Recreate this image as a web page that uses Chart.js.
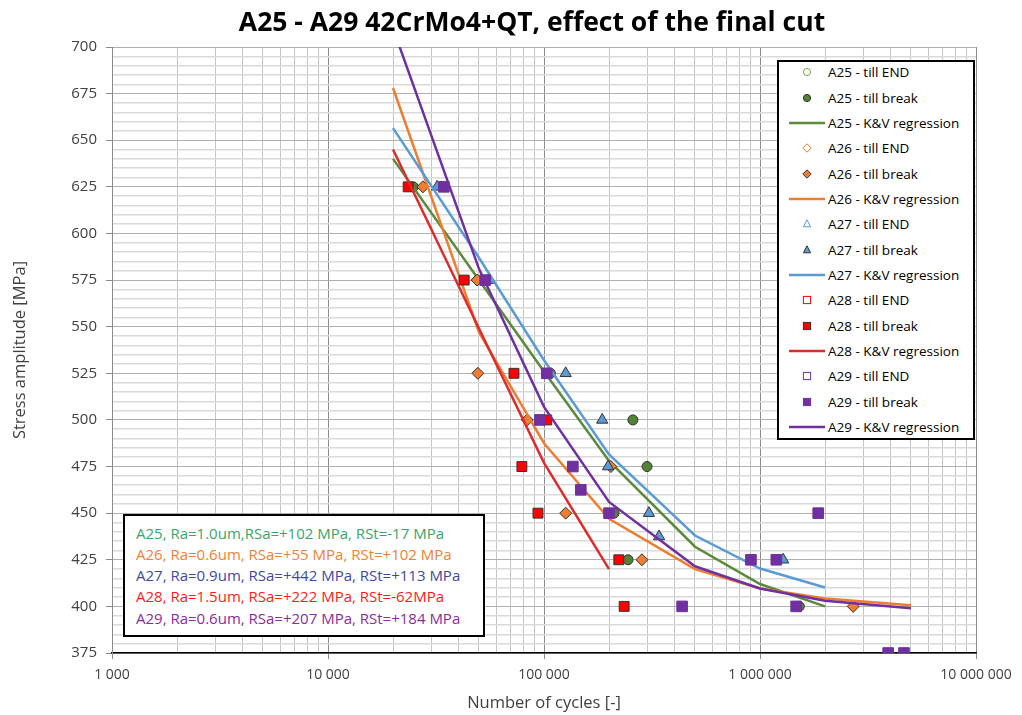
<!DOCTYPE html>
<html>
<head>
<meta charset="utf-8">
<script src="https://cdn.jsdelivr.net/npm/chart.js@4.4.1/dist/chart.umd.min.js"></script>
<style>
  html, body { margin: 0; padding: 0; background: #fff; }
  #wrap { position: relative; width: 1022px; height: 715px; font-family: 'Open Sans', sans-serif; }
  #title { position: absolute; left: 0; top: 3px; width: 1064px; line-height: 34px; text-align: center;
           font: bold 26.5px 'Open Sans', sans-serif; color: #000; }
  #legend { position: absolute; left: 777px; top: 60px; width: 198px; height: 380px; box-sizing: border-box;
            border: 2px solid #000; background: #fff; }
  .row { position: absolute; left: 0; width: 194px; height: 20px; font-size: 13.5px; line-height: 20px; color: #000; white-space: nowrap; }
  .row svg { position: absolute; left: 10px; top: 0; }
  .row span { position: absolute; left: 49px; top: 0; }
  #note { position: absolute; left: 123px; top: 514px; width: 362px; height: 123px; box-sizing: border-box;
          border: 2px solid #000; background: #fff; }
  #note div { position: absolute; left: 11px; font-size: 15px; line-height: 20px; white-space: nowrap; }
</style>
</head>
<body>
<div id="wrap">
  <canvas id="chart" width="1022" height="715"></canvas>
  <div id="title">A25 - A29 42CrMo4+QT, effect of the final cut</div>
  <div id="legend"></div>
  <div id="note"></div>
</div>
<script>
// axis ticks
const X_DECADES = [1e3, 1e4, 1e5, 1e6, 1e7];
const X_TICK_LABELS = ['1 000', '10 000', '100 000', '1 000 000', '10 000 000'];
const Y_MIN = 375, Y_MAX = 700, Y_STEP = 5, Y_MAJOR = 25;

// K&V regression curves, N values shared by all fits
const FIT_N = [2e4, 5e4, 1e5, 2e5, 5e5, 1e6, 2e6, 5e6];
const A25_FIT = [640, 575, 526, 478, 432, 412, 400];
const A26_FIT = [678, 547, 487.5, 447, 420, 409.6, 404.2, 400.6];
const A27_FIT = [656.5, 587, 532, 481.5, 438, 420.3, 410.1];
const A28_FIT = [645, 549, 477, 420];
const A29_FIT = [710, 581, 507, 456, 421.5, 409.6, 403, 399];

// tests till break: [cycles, stress amplitude]
const A25_BREAK = [[24800, 625], [107000, 525], [258000, 500], [300000, 475], [211000, 450], [245000, 425], [1520000, 400]];
const A26_BREAK = [[27500, 625], [49000, 575], [49400, 525], [83700, 500], [204000, 475], [126000, 450], [284000, 425], [2700000, 400]];
const A27_BREAK = [[32000, 625], [55600, 575], [126000, 525], [186000, 500], [198000, 475], [306000, 450], [341000, 437.5], [1280000, 425]];
const A28_BREAK = [[23500, 625], [42700, 575], [72600, 525], [103000, 500], [79000, 475], [93800, 450], [222000, 425], [235000, 400]];
const A29_BREAK = [[34400, 625], [53400, 575], [103000, 525], [95700, 500], [136000, 475], [148000, 462.5], [200000, 450],
                   [1860000, 450], [908000, 425], [1190000, 425], [436000, 400], [1470000, 400], [3920000, 375], [4640000, 375]];
// run-outs (none plotted)
const A25_END = [], A26_END = [], A27_END = [], A28_END = [], A29_END = [];

const NOTES = [
  ['A25, Ra=1.0um,RSa=+102 MPa, RSt=-17 MPa', '#3aa56b'],
  ['A26, Ra=0.6um, RSa=+55 MPa, RSt=+102 MPa', '#f4802f'],
  ['A27, Ra=0.9um, RSa=+442 MPa, RSt=+113 MPa', '#3f48a0'],
  ['A28, Ra=1.5um, RSa=+222 MPa, RSt=-62MPa', '#ff1a1a'],
  ['A29, Ra=0.6um, RSa=+207 MPa, RSt=+184 MPa', '#8a2ba0'],
];

const SPECIMENS = [
  { name: 'A25', end: A25_END, brk: A25_BREAK, fit: A25_FIT, style: 'circle', r: 5, fill: '#548235', edge: '#333', open: '#70ad47', line: '#5b8a3a' },
  { name: 'A26', end: A26_END, brk: A26_BREAK, fit: A26_FIT, style: 'rectRot', r: 6, fill: '#ed7d31', edge: '#333', open: '#ed7d31', line: '#ed7d31' },
  { name: 'A27', end: A27_END, brk: A27_BREAK, fit: A27_FIT, style: 'triangle', r: 6.5, fill: '#5b9bd5', edge: '#333', open: '#5b9bd5', line: '#5b9bd5' },
  { name: 'A28', end: A28_END, brk: A28_BREAK, fit: A28_FIT, style: 'rect', r: 7, fill: '#ff0000', edge: '#333', open: '#ff0000', line: '#e02b2b' },
  { name: 'A29', end: A29_END, brk: A29_BREAK, fit: A29_FIT, style: 'rect', r: 7.5, fill: '#7030a0', edge: '#7030a0', open: '#7030a0', line: '#7030a0' },
];

const toPts = arr => arr.map(([x, y]) => ({ x, y }));
const isDecade = v => Math.abs(Math.log10(v) - Math.round(Math.log10(v))) < 1e-9;

const series = [];
for (const s of SPECIMENS) {
  series.push({ kind: 'end', spec: s, ds: {
    label: s.name + ' - till END', data: toPts(s.end), showLine: false,
    pointStyle: s.style, pointRadius: s.r, pointBackgroundColor: '#fff', pointBorderColor: s.open, pointBorderWidth: 1,
  } });
  series.push({ kind: 'break', spec: s, ds: {
    label: s.name + ' - till break', data: toPts(s.brk), showLine: false,
    pointStyle: s.style, pointRadius: s.r, pointBackgroundColor: s.fill, pointBorderColor: s.edge, pointBorderWidth: 1,
  } });
  series.push({ kind: 'fit', spec: s, ds: {
    label: s.name + ' - K&V regression', data: s.fit.map((v, i) => ({ x: FIT_N[i], y: v })), showLine: true,
    pointRadius: 0, borderColor: s.line, backgroundColor: s.line, borderWidth: 2.5, tension: 0,
  } });
}
// later series are painted on top, as in the source
series.forEach((e, i) => { e.ds.order = series.length - i; });

new Chart(document.getElementById('chart'), {
  type: 'scatter',
  data: { datasets: series.map(e => e.ds) },
  options: {
    responsive: false,
    animation: false,
    layout: { padding: { top: 47, right: 46, left: 0, bottom: 0 } },
    plugins: { legend: { display: false }, tooltip: { enabled: false }, title: { display: false } },
    scales: {
      x: {
        type: 'logarithmic', min: X_DECADES[0], max: X_DECADES[X_DECADES.length - 1],
        afterBuildTicks: scale => {
          const ticks = [];
          for (let d = 0; d < X_DECADES.length - 1; d++) {
            for (let m = 1; m < 10; m++) ticks.push({ value: X_DECADES[d] * m });
          }
          ticks.push({ value: X_DECADES[X_DECADES.length - 1] });
          scale.ticks = ticks;
        },
        afterFit: scale => { scale.height = 62; },
        ticks: {
          autoSkip: false, maxRotation: 0, padding: 8, color: '#404040',
          font: { family: 'Open Sans', size: 14 },
          callback: v => { const i = X_DECADES.findIndex(d => Math.abs(d - v) < 1e-6); return i >= 0 ? X_TICK_LABELS[i] : ''; },
        },
        grid: {
          color: ctx => ctx.tick && isDecade(ctx.tick.value) ? '#8c8c8c' : '#c4c4c4',
          tickColor: ctx => ctx.tick && isDecade(ctx.tick.value) ? '#8c8c8c' : 'rgba(0,0,0,0)',
          tickLength: 6, lineWidth: 1,
        },
        border: { color: '#000', width: 1.5 },
        title: { display: true, text: 'Number of cycles [-]', color: '#404040',
                 font: { family: 'Open Sans', size: 16.5 }, padding: { top: 0, bottom: 2 } },
      },
      y: {
        type: 'linear', min: Y_MIN, max: Y_MAX,
        afterFit: scale => { scale.width = 112; },
        ticks: {
          stepSize: Y_STEP, autoSkip: false, padding: 9, color: '#404040',
          font: { family: 'Open Sans', size: 15 },
          callback: v => (v % Y_MAJOR === 0 ? String(v) : ''),
        },
        grid: {
          color: ctx => ctx.tick && ctx.tick.value % Y_MAJOR === 0 ? '#b0b0b0' : '#dadada',
          tickColor: ctx => ctx.tick && ctx.tick.value % Y_MAJOR === 0 ? '#8c8c8c' : 'rgba(0,0,0,0)',
          tickLength: 6, lineWidth: ctx => ctx.tick && ctx.tick.value % Y_MAJOR === 0 ? 1 : 1.5,
        },
        border: { color: '#8c8c8c', width: 1 },
        title: { display: true, text: 'Stress amplitude [MPa]', color: '#404040',
                 font: { family: 'Open Sans', size: 16.5 }, padding: { top: 10, bottom: 0 } },
      },
    },
  },
});

// legend icons
function icon(e) {
  const s = e.spec, cx = 18, cy = 10;
  if (e.kind === 'fit') {
    return `<svg width="36" height="20"><line x1="0" y1="${cy}" x2="36" y2="${cy}" stroke="${s.line}" stroke-width="2.5"/></svg>`;
  }
  const fill = e.kind === 'end' ? '#fff' : s.fill;
  const stroke = e.kind === 'end' ? s.open : s.edge;
  const r = 3.6;
  let shape;
  if (s.style === 'circle') shape = `<circle cx="${cx}" cy="${cy}" r="${r}"/>`;
  else if (s.style === 'rectRot') shape = `<polygon points="${cx - r - 0.6},${cy} ${cx},${cy - r - 0.6} ${cx + r + 0.6},${cy} ${cx},${cy + r + 0.6}"/>`;
  else if (s.style === 'triangle') shape = `<polygon points="${cx},${cy - r - 0.6} ${cx + r},${cy + r - 0.8} ${cx - r},${cy + r - 0.8}"/>`;
  else shape = `<rect x="${cx - r}" y="${cy - r}" width="${2 * r}" height="${2 * r}"/>`;
  return `<svg width="36" height="20"><g fill="${fill}" stroke="${stroke}" stroke-width="1">${shape}</g></svg>`;
}

const legend = document.getElementById('legend');
series.forEach((e, i) => {
  const row = document.createElement('div');
  row.className = 'row';
  row.style.top = (10.3 + i * 25.34 - 10) + 'px';
  row.innerHTML = icon(e) + `<span>${e.ds.label.replace('&', '&amp;')}</span>`;
  legend.appendChild(row);
});

const note = document.getElementById('note');
NOTES.forEach(([text, color], i) => {
  const d = document.createElement('div');
  d.style.top = (16.7 + i * 21.2 - 10) + 'px';
  d.style.color = color;
  d.textContent = text;
  note.appendChild(d);
});
</script>
</body>
</html>
